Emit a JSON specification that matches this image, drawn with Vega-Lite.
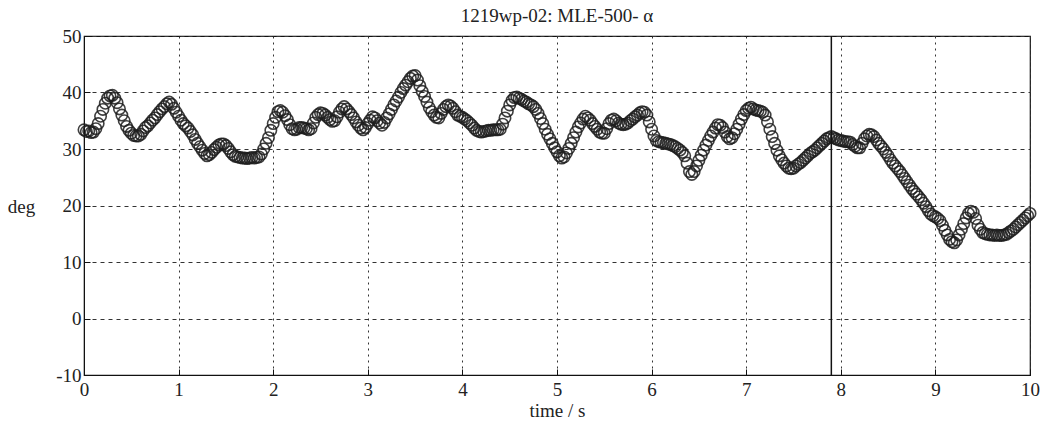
{
  "$schema": "https://vega.github.io/schema/vega-lite/v6.json",
  "autosize": "none",
  "width": 946,
  "height": 339,
  "padding": {"left": 84, "top": 36, "right": 15, "bottom": 46},
  "background": "white",
  "title": {"text": "1219wp-02: MLE-500- α", "font": "Liberation Serif", "fontSize": 19, "fontWeight": "normal", "color": "#222", "anchor": "middle", "offset": 1},
  "config": {
    "view": {"stroke": "#111", "strokeWidth": 1.2},
    "axis": {"labelFont": "Liberation Serif", "labelFontSize": 19, "labelColor": "#222", "titleFont": "Liberation Serif", "titleFontSize": 19, "titleFontWeight": "normal", "titleColor": "#222", "gridColor": "#333", "gridOpacity": 1, "gridWidth": 1, "domainColor": "#111", "tickColor": "#111", "labelExpr": "'' + datum.value"}
  },
  "datasets": {
    "marker": [{"t": 7.9}],
    "alpha": [
{"t":0.000,"v":33.4},{"t":0.025,"v":33.1},{"t":0.050,"v":33.2},{"t":0.075,"v":32.9},{"t":0.100,"v":33.0},{"t":0.125,"v":33.6},{"t":0.150,"v":34.5},{"t":0.175,"v":35.8},{"t":0.200,"v":37.0},{"t":0.225,"v":38.1},
{"t":0.250,"v":39.0},{"t":0.275,"v":39.4},{"t":0.300,"v":39.5},{"t":0.325,"v":39.0},{"t":0.350,"v":38.2},{"t":0.375,"v":37.1},{"t":0.400,"v":36.0},{"t":0.425,"v":35.0},{"t":0.450,"v":34.0},{"t":0.475,"v":33.3},
{"t":0.500,"v":32.8},{"t":0.525,"v":32.4},{"t":0.550,"v":32.3},{"t":0.575,"v":32.3},{"t":0.600,"v":32.6},{"t":0.625,"v":33.2},{"t":0.650,"v":33.8},{"t":0.675,"v":34.1},{"t":0.700,"v":34.6},{"t":0.725,"v":35.1},
{"t":0.750,"v":35.5},{"t":0.775,"v":36.1},{"t":0.800,"v":36.6},{"t":0.825,"v":37.1},{"t":0.850,"v":37.5},{"t":0.875,"v":38.0},{"t":0.900,"v":38.3},{"t":0.925,"v":37.9},{"t":0.950,"v":37.2},{"t":0.975,"v":36.5},
{"t":1.000,"v":35.8},{"t":1.025,"v":35.1},{"t":1.050,"v":34.5},{"t":1.075,"v":34.1},{"t":1.100,"v":33.7},{"t":1.125,"v":33.1},{"t":1.150,"v":32.5},{"t":1.175,"v":31.7},{"t":1.200,"v":31.0},{"t":1.225,"v":30.4},
{"t":1.250,"v":29.8},{"t":1.275,"v":29.2},{"t":1.300,"v":28.8},{"t":1.325,"v":29.0},{"t":1.350,"v":29.4},{"t":1.375,"v":29.9},{"t":1.400,"v":30.3},{"t":1.425,"v":30.7},{"t":1.450,"v":30.9},{"t":1.475,"v":30.9},
{"t":1.500,"v":30.6},{"t":1.525,"v":30.1},{"t":1.550,"v":29.5},{"t":1.575,"v":29.0},{"t":1.600,"v":28.7},{"t":1.625,"v":28.6},{"t":1.650,"v":28.5},{"t":1.675,"v":28.4},{"t":1.700,"v":28.4},{"t":1.725,"v":28.3},
{"t":1.750,"v":28.4},{"t":1.775,"v":28.5},{"t":1.800,"v":28.4},{"t":1.825,"v":28.5},{"t":1.850,"v":28.6},{"t":1.875,"v":29.1},{"t":1.900,"v":30.0},{"t":1.925,"v":31.0},{"t":1.950,"v":32.0},{"t":1.975,"v":33.3},
{"t":2.000,"v":34.5},{"t":2.025,"v":35.6},{"t":2.050,"v":36.6},{"t":2.075,"v":36.8},{"t":2.100,"v":36.5},{"t":2.125,"v":35.9},{"t":2.150,"v":35.2},{"t":2.175,"v":34.3},{"t":2.200,"v":33.6},{"t":2.225,"v":33.4},
{"t":2.250,"v":33.5},{"t":2.275,"v":33.8},{"t":2.300,"v":33.8},{"t":2.325,"v":33.7},{"t":2.350,"v":33.6},{"t":2.375,"v":33.4},{"t":2.400,"v":33.6},{"t":2.425,"v":34.6},{"t":2.450,"v":35.6},{"t":2.475,"v":36.1},
{"t":2.500,"v":36.4},{"t":2.525,"v":36.3},{"t":2.550,"v":36.0},{"t":2.575,"v":35.6},{"t":2.600,"v":35.2},{"t":2.625,"v":34.9},{"t":2.650,"v":35.0},{"t":2.675,"v":35.7},{"t":2.700,"v":36.5},{"t":2.725,"v":37.1},
{"t":2.750,"v":37.5},{"t":2.775,"v":37.1},{"t":2.800,"v":36.6},{"t":2.825,"v":36.1},{"t":2.850,"v":35.5},{"t":2.875,"v":34.8},{"t":2.900,"v":34.2},{"t":2.925,"v":33.7},{"t":2.950,"v":33.4},{"t":2.975,"v":33.8},
{"t":3.000,"v":34.5},{"t":3.025,"v":35.1},{"t":3.050,"v":35.7},{"t":3.075,"v":35.5},{"t":3.100,"v":35.0},{"t":3.125,"v":34.6},{"t":3.150,"v":34.2},{"t":3.175,"v":34.7},{"t":3.200,"v":35.5},{"t":3.225,"v":36.2},
{"t":3.250,"v":37.0},{"t":3.275,"v":37.8},{"t":3.300,"v":38.5},{"t":3.325,"v":39.2},{"t":3.350,"v":40.0},{"t":3.375,"v":40.7},{"t":3.400,"v":41.3},{"t":3.425,"v":41.9},{"t":3.450,"v":42.5},{"t":3.475,"v":42.9},
{"t":3.500,"v":43.0},{"t":3.525,"v":42.2},{"t":3.550,"v":41.2},{"t":3.575,"v":40.2},{"t":3.600,"v":39.3},{"t":3.625,"v":38.3},{"t":3.650,"v":37.3},{"t":3.675,"v":36.6},{"t":3.700,"v":36.0},{"t":3.725,"v":35.6},
{"t":3.750,"v":35.5},{"t":3.775,"v":36.3},{"t":3.800,"v":37.0},{"t":3.825,"v":37.5},{"t":3.850,"v":37.8},{"t":3.875,"v":37.6},{"t":3.900,"v":37.2},{"t":3.925,"v":36.6},{"t":3.950,"v":36.0},{"t":3.975,"v":35.8},
{"t":4.000,"v":35.6},{"t":4.025,"v":35.3},{"t":4.050,"v":35.0},{"t":4.075,"v":34.6},{"t":4.100,"v":34.2},{"t":4.125,"v":33.7},{"t":4.150,"v":33.3},{"t":4.175,"v":33.1},{"t":4.200,"v":33.0},{"t":4.225,"v":33.1},
{"t":4.250,"v":33.2},{"t":4.275,"v":33.3},{"t":4.300,"v":33.3},{"t":4.325,"v":33.4},{"t":4.350,"v":33.4},{"t":4.375,"v":33.4},{"t":4.400,"v":33.5},{"t":4.425,"v":34.4},{"t":4.450,"v":35.5},{"t":4.475,"v":36.7},
{"t":4.500,"v":37.8},{"t":4.525,"v":38.6},{"t":4.550,"v":39.1},{"t":4.575,"v":39.2},{"t":4.600,"v":39.0},{"t":4.625,"v":38.8},{"t":4.650,"v":38.5},{"t":4.675,"v":38.3},{"t":4.700,"v":38.0},{"t":4.725,"v":37.8},
{"t":4.750,"v":37.5},{"t":4.775,"v":37.0},{"t":4.800,"v":36.3},{"t":4.825,"v":35.4},{"t":4.850,"v":34.5},{"t":4.875,"v":33.5},{"t":4.900,"v":32.6},{"t":4.925,"v":31.8},{"t":4.950,"v":31.0},{"t":4.975,"v":30.2},
{"t":5.000,"v":29.5},{"t":5.025,"v":28.8},{"t":5.050,"v":28.4},{"t":5.075,"v":28.6},{"t":5.100,"v":29.3},{"t":5.125,"v":30.1},{"t":5.150,"v":31.0},{"t":5.175,"v":32.0},{"t":5.200,"v":33.0},{"t":5.225,"v":33.9},
{"t":5.250,"v":34.6},{"t":5.275,"v":35.3},{"t":5.300,"v":35.8},{"t":5.325,"v":35.5},{"t":5.350,"v":35.1},{"t":5.375,"v":34.5},{"t":5.400,"v":34.0},{"t":5.425,"v":33.5},{"t":5.450,"v":33.0},{"t":5.475,"v":32.8},
{"t":5.500,"v":32.8},{"t":5.525,"v":33.6},{"t":5.550,"v":34.5},{"t":5.575,"v":35.1},{"t":5.600,"v":35.3},{"t":5.625,"v":35.0},{"t":5.650,"v":34.6},{"t":5.675,"v":34.4},{"t":5.700,"v":34.3},{"t":5.725,"v":34.4},
{"t":5.750,"v":34.6},{"t":5.775,"v":35.0},{"t":5.800,"v":35.3},{"t":5.825,"v":35.7},{"t":5.850,"v":36.0},{"t":5.875,"v":36.4},{"t":5.900,"v":36.6},{"t":5.925,"v":36.5},{"t":5.950,"v":36.0},{"t":5.975,"v":34.8},
{"t":6.000,"v":33.5},{"t":6.025,"v":32.3},{"t":6.050,"v":31.5},{"t":6.075,"v":31.3},{"t":6.100,"v":31.2},{"t":6.125,"v":31.1},{"t":6.150,"v":31.0},{"t":6.175,"v":30.9},{"t":6.200,"v":30.8},{"t":6.225,"v":30.6},
{"t":6.250,"v":30.4},{"t":6.275,"v":30.1},{"t":6.300,"v":29.8},{"t":6.325,"v":29.4},{"t":6.350,"v":28.8},{"t":6.375,"v":27.5},{"t":6.400,"v":26.0},{"t":6.425,"v":25.5},{"t":6.450,"v":26.0},{"t":6.475,"v":27.0},
{"t":6.500,"v":28.0},{"t":6.525,"v":28.9},{"t":6.550,"v":29.8},{"t":6.575,"v":30.7},{"t":6.600,"v":31.5},{"t":6.625,"v":32.3},{"t":6.650,"v":33.0},{"t":6.675,"v":33.7},{"t":6.700,"v":34.3},{"t":6.725,"v":34.2},
{"t":6.750,"v":33.8},{"t":6.775,"v":33.0},{"t":6.800,"v":32.2},{"t":6.825,"v":31.8},{"t":6.850,"v":32.0},{"t":6.875,"v":32.7},{"t":6.900,"v":33.5},{"t":6.925,"v":34.4},{"t":6.950,"v":35.3},{"t":6.975,"v":36.1},
{"t":7.000,"v":36.8},{"t":7.025,"v":37.2},{"t":7.050,"v":37.4},{"t":7.075,"v":37.1},{"t":7.100,"v":36.9},{"t":7.125,"v":36.8},{"t":7.150,"v":36.7},{"t":7.175,"v":36.5},{"t":7.200,"v":36.0},{"t":7.225,"v":34.8},
{"t":7.250,"v":33.5},{"t":7.275,"v":32.2},{"t":7.300,"v":31.0},{"t":7.325,"v":29.8},{"t":7.350,"v":28.8},{"t":7.375,"v":28.1},{"t":7.400,"v":27.5},{"t":7.425,"v":27.0},{"t":7.450,"v":26.6},{"t":7.475,"v":26.5},
{"t":7.500,"v":26.6},{"t":7.525,"v":27.0},{"t":7.550,"v":27.3},{"t":7.575,"v":27.6},{"t":7.600,"v":28.0},{"t":7.625,"v":28.4},{"t":7.650,"v":28.8},{"t":7.675,"v":29.2},{"t":7.700,"v":29.5},{"t":7.725,"v":29.8},
{"t":7.750,"v":30.2},{"t":7.775,"v":30.6},{"t":7.800,"v":31.0},{"t":7.825,"v":31.4},{"t":7.850,"v":31.8},{"t":7.875,"v":32.0},{"t":7.900,"v":32.2},{"t":7.925,"v":32.0},{"t":7.950,"v":31.8},{"t":7.975,"v":31.6},
{"t":8.000,"v":31.5},{"t":8.025,"v":31.4},{"t":8.050,"v":31.3},{"t":8.075,"v":31.3},{"t":8.100,"v":31.2},{"t":8.125,"v":30.8},{"t":8.150,"v":30.5},{"t":8.175,"v":30.2},{"t":8.200,"v":30.2},{"t":8.225,"v":31.0},
{"t":8.250,"v":31.8},{"t":8.275,"v":32.3},{"t":8.300,"v":32.6},{"t":8.325,"v":32.5},{"t":8.350,"v":32.2},{"t":8.375,"v":31.6},{"t":8.400,"v":31.0},{"t":8.425,"v":30.5},{"t":8.450,"v":30.0},{"t":8.475,"v":29.4},
{"t":8.500,"v":28.8},{"t":8.525,"v":28.1},{"t":8.550,"v":27.5},{"t":8.575,"v":27.0},{"t":8.600,"v":26.5},{"t":8.625,"v":26.0},{"t":8.650,"v":25.4},{"t":8.675,"v":24.8},{"t":8.700,"v":24.2},{"t":8.725,"v":23.6},
{"t":8.750,"v":23.0},{"t":8.775,"v":22.5},{"t":8.800,"v":22.0},{"t":8.825,"v":21.5},{"t":8.850,"v":21.0},{"t":8.875,"v":20.4},{"t":8.900,"v":19.8},{"t":8.925,"v":19.1},{"t":8.950,"v":18.5},{"t":8.975,"v":18.2},
{"t":9.000,"v":18.0},{"t":9.025,"v":17.7},{"t":9.050,"v":17.3},{"t":9.075,"v":16.5},{"t":9.100,"v":15.6},{"t":9.125,"v":14.8},{"t":9.150,"v":14.0},{"t":9.175,"v":13.6},{"t":9.200,"v":13.4},{"t":9.225,"v":13.9},
{"t":9.250,"v":14.8},{"t":9.275,"v":15.8},{"t":9.300,"v":16.8},{"t":9.325,"v":17.8},{"t":9.350,"v":18.6},{"t":9.375,"v":19.0},{"t":9.400,"v":18.8},{"t":9.425,"v":17.7},{"t":9.450,"v":16.5},{"t":9.475,"v":15.8},
{"t":9.500,"v":15.2},{"t":9.525,"v":15.0},{"t":9.550,"v":14.9},{"t":9.575,"v":14.8},{"t":9.600,"v":14.8},{"t":9.625,"v":14.7},{"t":9.650,"v":14.8},{"t":9.675,"v":14.7},{"t":9.700,"v":14.7},{"t":9.725,"v":14.8},
{"t":9.750,"v":14.9},{"t":9.775,"v":15.2},{"t":9.800,"v":15.5},{"t":9.825,"v":15.8},{"t":9.850,"v":16.2},{"t":9.875,"v":16.6},{"t":9.900,"v":17.0},{"t":9.925,"v":17.4},{"t":9.950,"v":17.8},{"t":9.975,"v":18.2},
{"t":10.000,"v":18.6}
    ]
  },
  "layer": [
    {
      "data": {"name": "alpha"},
      "mark": {"type": "point", "shape": "circle", "filled": false, "size": 130, "strokeWidth": 1.6, "color": "#1e1e1e", "opacity": 0.85},
      "encoding": {
        "x": {"field": "t", "type": "quantitative", "scale": {"domain": [0, 10], "nice": false}, "axis": {"title": "time / s", "values": [0,1,2,3,4,5,6,7,8,9,10], "grid": true, "gridDash": [2, 4], "tickSize": -6, "labelPadding": 11, "titlePadding": 2, "labelFlush": false}},
        "y": {"field": "v", "type": "quantitative", "scale": {"domain": [-10, 50], "nice": false}, "axis": {"title": "deg", "values": [-10,0,10,20,30,40,50], "grid": true, "gridDash": [4, 4], "tickSize": -6, "labelPadding": 9, "titleAngle": 0, "titleX": -63, "titleY": 170, "titleAlign": "center", "titleBaseline": "middle"}}
      }
    },
    {
      "data": {"name": "marker"},
      "mark": {"type": "rule", "color": "#111", "strokeWidth": 1.5},
      "encoding": {"x": {"field": "t", "type": "quantitative"}}
    }
  ]
}
